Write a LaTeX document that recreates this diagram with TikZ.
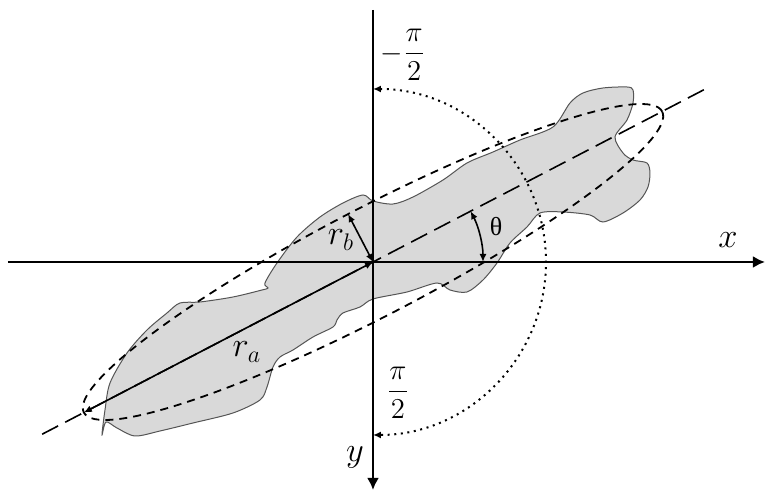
\documentclass[tikz,border=0pt]{standalone}
\usepackage{amsmath}
\usepackage{fontspec}
\setmainfont{Liberation Serif}
\usepackage{tikz}
\usetikzlibrary{arrows.meta,calc}
\definecolor{BlobFill}{HTML}{D9D9D9}
\definecolor{BlobLine}{HTML}{555555}

\begin{document}
\begin{tikzpicture}[
  x=0.5pt,y=0.5pt,
  axis/.style={-{Latex[length=6pt,width=6pt]},line width=1.2pt},
  blob/.style={draw=BlobLine,line width=0.5pt,fill=BlobFill},
  ell/.style={dash pattern=on 4pt off 3pt,line width=0.9pt},
  major/.style={dash pattern=on 9pt off 4pt,line width=0.8pt},
  dimarr/.style={{Latex[length=4pt,width=3.5pt]}-{Latex[length=4pt,width=3.5pt]},line width=0.8pt},
  sweep/.style={{Latex[length=4pt,width=3.5pt]}-{Latex[length=4pt,width=3.5pt]},line width=1pt,dash pattern=on 1pt off 2.3pt},
  lbl/.style={inner sep=1pt}
]
\useasboundingbox (-373,-229) rectangle (395,262);
\coordinate (O) at (0,0);
\coordinate (xw) at (-365,0);
\coordinate (xe) at (392,0);
\coordinate (yn) at (0,252);
\coordinate (ys) at (0,-228);
\coordinate (ra) at (207.5:326);
\coordinate (rb) at (117.5:54);
\coordinate (mw) at (207.5:373);
\coordinate (me) at (27.5:380);
\coordinate (sn) at (90:173);
\coordinate (t0) at (0:110);
% object outline
\draw[blob] plot[smooth cycle,tension=0.5] coordinates {
  (-271,-173) (-267,-160) (-256,-166) (-238,-174) (-213,-169) (-180,-161)
  (-140,-151) (-113,-138) (-106,-125) (-100,-105) (-93,-95) (-80,-88)
  (-60,-75) (-40,-65) (-36,-58) (-30,-51) (-13,-45) (0,-37) (34,-30)
  (64,-21) (77,-28) (94,-30) (110,-18) (124,-1) (137,19) (154,35)
  (167,49) (190,50) (217,47) (230,40) (250,49) (267,62) (275,75)
  (277,89) (274,99) (260,102) (250,109) (242,125) (254,142) (260,159)
  (260,172) (254,175) (230,174) (210,169) (197,159) (180,135) (147,122)
  (120,110) (94,99) (70,82) (40,65) (20,58) (0,61) (-10,67) (-30,59)
  (-53,45) (-76,25) (-96,-1) (-108,-21) (-105,-26) (-111,-28) (-140,-35)
  (-173,-40) (-193,-41) (-206,-51) (-226,-68) (-246,-91) (-263,-121)
  (-268,-148)};
\draw[ell,rotate around={27.5:(O)}] (O) ellipse [x radius=326,y radius=54];
\draw[major] (mw) -- (me);
\draw[axis] (xw) -- (xe);
\draw[axis] (yn) -- (ys);
\draw[sweep] (sn) arc[start angle=90,end angle=-90,radius=173];
\draw[dimarr] (t0) arc[start angle=0,end angle=27.5,radius=110];
\draw[dimarr] (O) -- (ra);
\draw[dimarr] (O) -- (rb);
\node[lbl,font=\LARGE] (xlab) at (355,22) {$x$};
\node[lbl,font=\LARGE] (ylab) at (-18,-195) {$y$};
\node[lbl,font=\Large] (neg) at (30,207) {$-\dfrac{\pi}{2}$};
\node[lbl,font=\Large] (pos) at (25,-131) {$\dfrac{\pi}{2}$};
\node[lbl,font=\fontsize{13}{15}\selectfont] (theta) at (123,35) {θ};
\node[lbl,font=\LARGE] (ralab) at (-126,-90) {$r_a$};
\node[lbl,font=\LARGE] (rblab) at (-32,22) {$r_b$};
\end{tikzpicture}
\end{document}
